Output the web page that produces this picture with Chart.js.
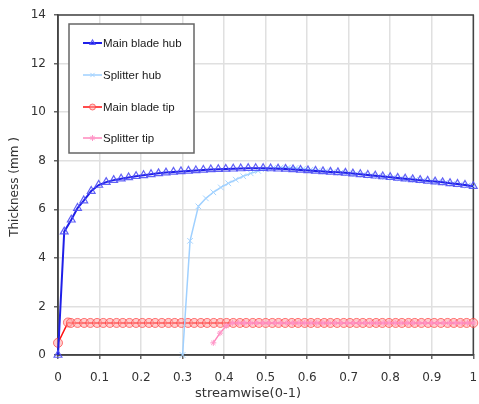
<!DOCTYPE html>
<html>
<head>
<meta charset="utf-8">
<script src="https://cdn.jsdelivr.net/npm/chart.js@4.4.0/dist/chart.umd.min.js"></script>
<style>
html, body { margin: 0; padding: 0; background: #fff; }
</style>
</head>
<body>
<canvas id="c" width="479" height="404"></canvas>
<script>
// streamwise positions (0-1) and thickness (mm)
let mainHubX = [0, 0.015, 0.032, 0.047, 0.062, 0.08, 0.098, 0.116, 0.134, 0.152, 0.17, 0.188, 0.206, 0.224, 0.242, 0.26, 0.278, 0.296, 0.314, 0.332, 0.35, 0.368, 0.386, 0.404, 0.422, 0.44, 0.458, 0.476, 0.494, 0.512, 0.53, 0.548, 0.566, 0.584, 0.602, 0.62, 0.638, 0.656, 0.674, 0.692, 0.71, 0.728, 0.746, 0.764, 0.782, 0.8, 0.818, 0.836, 0.854, 0.872, 0.89, 0.908, 0.926, 0.944, 0.962, 0.98, 1.0]
let mainHubY = [0, 5.08, 5.57, 6.05, 6.36, 6.75, 7.0, 7.12, 7.2, 7.26, 7.31, 7.36, 7.4, 7.44, 7.48, 7.51, 7.54, 7.56, 7.58, 7.6, 7.62, 7.64, 7.65, 7.66, 7.67, 7.68, 7.69, 7.69, 7.69, 7.68, 7.67, 7.66, 7.64, 7.62, 7.6, 7.58, 7.56, 7.54, 7.52, 7.5, 7.47, 7.44, 7.41, 7.38, 7.35, 7.32, 7.29, 7.26, 7.23, 7.2, 7.17, 7.14, 7.11, 7.07, 7.04, 7.0, 6.95]

let splitHubX = [0.3, 0.318, 0.338, 0.356, 0.374, 0.392, 0.41, 0.428, 0.446, 0.464, 0.482, 0.5, 0.518, 0.536, 0.554, 0.572, 0.59, 0.608, 0.626, 0.644, 0.662, 0.68, 0.698, 0.716, 0.734, 0.752, 0.77, 0.788, 0.806, 0.824, 0.842, 0.86, 0.878, 0.896, 0.914, 0.932, 0.95, 0.968, 0.986, 1.0]
let splitHubY = [0, 4.7, 6.12, 6.45, 6.7, 6.9, 7.07, 7.22, 7.36, 7.48, 7.58, 7.65, 7.7, 7.72, 7.72, 7.7, 7.67, 7.63, 7.6, 7.57, 7.54, 7.51, 7.48, 7.45, 7.42, 7.39, 7.36, 7.33, 7.3, 7.27, 7.24, 7.21, 7.18, 7.15, 7.12, 7.09, 7.05, 7.02, 6.98, 6.95]

let mainTipX = [0, 0.024, 0.031, 0.047, 0.063, 0.078, 0.094, 0.109, 0.125, 0.141, 0.156, 0.172, 0.188, 0.203, 0.219, 0.234, 0.25, 0.266, 0.281, 0.297, 0.313, 0.328, 0.344, 0.359, 0.375, 0.391, 0.406, 0.422, 0.438, 0.453, 0.469, 0.484, 0.5, 0.516, 0.531, 0.547, 0.563, 0.578, 0.594, 0.609, 0.625, 0.641, 0.656, 0.672, 0.688, 0.703, 0.719, 0.734, 0.75, 0.766, 0.781, 0.797, 0.813, 0.828, 0.844, 0.859, 0.875, 0.891, 0.906, 0.922, 0.938, 0.953, 0.969, 0.984, 1.0]
let mainTipY = [0.5, 1.34, 1.32, 1.32, 1.32, 1.32, 1.32, 1.32, 1.32, 1.32, 1.32, 1.32, 1.32, 1.32, 1.32, 1.32, 1.32, 1.32, 1.32, 1.32, 1.32, 1.32, 1.32, 1.32, 1.32, 1.32, 1.32, 1.32, 1.32, 1.32, 1.32, 1.32, 1.32, 1.32, 1.32, 1.32, 1.32, 1.32, 1.32, 1.32, 1.32, 1.32, 1.32, 1.32, 1.32, 1.32, 1.32, 1.32, 1.32, 1.32, 1.32, 1.32, 1.32, 1.32, 1.32, 1.32, 1.32, 1.32, 1.32, 1.32, 1.32, 1.32, 1.32, 1.32, 1.32]

let splitTipX = [0.374, 0.39, 0.405, 0.42, 0.435, 0.449, 0.464, 0.478, 0.493, 0.507, 0.522, 0.536, 0.551, 0.565, 0.58, 0.594, 0.609, 0.623, 0.638, 0.652, 0.667, 0.681, 0.696, 0.71, 0.725, 0.739, 0.754, 0.768, 0.783, 0.797, 0.812, 0.826, 0.841, 0.855, 0.87, 0.884, 0.899, 0.913, 0.928, 0.942, 0.957, 0.971, 0.986, 1.0]
let splitTipY = [0.5, 0.9, 1.2, 1.32, 1.32, 1.32, 1.32, 1.32, 1.32, 1.32, 1.32, 1.32, 1.32, 1.32, 1.32, 1.32, 1.32, 1.32, 1.32, 1.32, 1.32, 1.32, 1.32, 1.32, 1.32, 1.32, 1.32, 1.32, 1.32, 1.32, 1.32, 1.32, 1.32, 1.32, 1.32, 1.32, 1.32, 1.32, 1.32, 1.32, 1.32, 1.32, 1.32, 1.32]

let seriesNames = ['Main blade hub', 'Splitter hub', 'Main blade tip', 'Splitter tip']

function toPoints(xs, ys) {
    return xs.map((x, i) => ({ x: x, y: ys[i] }))
}

const tickFont = { family: 'DejaVu Sans', size: 12 }

// frame round the plot, axis titles and the boxed legend
const framePlugin = {
    id: 'frame',
    beforeDatasetsDraw(chart) {
        const { ctx, chartArea: a } = chart
        ctx.save()
        ctx.strokeStyle = '#444'
        ctx.lineWidth = 1.5
        ctx.strokeRect(a.left, a.top, a.right - a.left, a.bottom - a.top)
        ctx.restore()
    },
    afterDraw(chart) {
        const ctx = chart.ctx
        ctx.save()
        ctx.fillStyle = '#333'
        ctx.textAlign = 'center'
        ctx.textBaseline = 'middle'
        ctx.font = '13px "DejaVu Sans"'
        ctx.fillText('streamwise(0-1)', 248, 394)
        ctx.translate(15, 187)
        ctx.rotate(-Math.PI / 2)
        ctx.font = '12px "DejaVu Sans"'
        ctx.fillText('Thickness (mm )', 0, 0)
        ctx.restore()

        // legend
        ctx.save()
        ctx.fillStyle = '#fff'
        ctx.fillRect(69, 24, 125, 129)
        ctx.strokeStyle = '#666'
        ctx.lineWidth = 1.5
        ctx.strokeRect(69, 24, 125, 129)
        let rows = [43, 75, 107, 138]
        chart.data.datasets.forEach((ds, i) => {
            let y = rows[i]
            ctx.strokeStyle = ds.borderColor
            ctx.lineWidth = ds.borderWidth
            ctx.beginPath()
            ctx.moveTo(83, y)
            ctx.lineTo(102, y)
            ctx.stroke()
            if (Chart.helpers && Chart.helpers.drawPoint) {
                ctx.strokeStyle = ds.pointBorderColor
                ctx.fillStyle = ds.pointBackgroundColor
                ctx.lineWidth = ds.pointBorderWidth
                Chart.helpers.drawPoint(ctx, {
                    pointStyle: ds.pointStyle,
                    radius: 3,
                    rotation: 0,
                    borderWidth: ds.pointBorderWidth
                }, 92.5, y)
            }
            ctx.fillStyle = '#1a1a1a'
            ctx.font = '11.5px "Liberation Sans"'
            ctx.textAlign = 'left'
            ctx.textBaseline = 'middle'
            ctx.fillText(seriesNames[i], 103, y + 1)
        })
        ctx.restore()
    }
}

new Chart(document.getElementById('c'), {
    type: 'line',
    data: {
        datasets: [{
            label: seriesNames[0],
            data: toPoints(mainHubX, mainHubY),
            borderColor: '#1f1fe8',
            borderWidth: 2,
            pointStyle: 'triangle',
            pointRadius: 4.5,
            pointBorderColor: 'rgba(80, 80, 245, 0.9)',
            pointBackgroundColor: 'rgba(255, 255, 255, 0)',
            pointBorderWidth: 1.2,
            tension: 0,
            clip: 6,
            order: 2
        }, {
            label: seriesNames[1],
            data: toPoints(splitHubX, splitHubY),
            borderColor: '#9fd0ff',
            borderWidth: 1.5,
            pointStyle: 'crossRot',
            pointRadius: 4,
            pointBorderColor: '#a6d4ff',
            pointBackgroundColor: '#a6d4ff',
            pointBorderWidth: 1,
            tension: 0,
            clip: 6,
            order: 3
        }, {
            label: seriesNames[2],
            data: toPoints(mainTipX, mainTipY),
            borderColor: '#ff1010',
            borderWidth: 1.5,
            pointStyle: 'circle',
            pointRadius: 4.5,
            pointBorderColor: 'rgba(255, 60, 60, 0.7)',
            pointBackgroundColor: 'rgba(255, 160, 160, 0.5)',
            pointBorderWidth: 1,
            tension: 0,
            clip: 6,
            order: 4
        }, {
            label: seriesNames[3],
            data: toPoints(splitTipX, splitTipY),
            borderColor: '#ff88bd',
            borderWidth: 1.5,
            pointStyle: 'star',
            pointRadius: 3,
            pointBorderColor: '#ff96c8',
            pointBackgroundColor: '#ff96c8',
            pointBorderWidth: 1,
            tension: 0,
            clip: 6,
            order: 1
        }]
    },
    options: {
        responsive: false,
        animation: false,
        layout: { padding: { top: 15, right: 1, bottom: 0, left: 0 } },
        plugins: {
            legend: { display: false },
            tooltip: { enabled: false }
        },
        scales: {
            x: {
                type: 'linear',
                min: 0,
                max: 1,
                ticks: {
                    stepSize: 0.1,
                    font: tickFont,
                    color: '#333',
                    padding: 12,
                    maxRotation: 0,
                    callback: (v) => String(Math.round(v * 10) / 10)
                },
                grid: { color: '#e0e0e0', lineWidth: 1.5, tickLength: 4, tickColor: '#666' },
                border: { color: '#444', width: 1.5 },
                afterFit(s) {
                    s.height = 49
                    s.paddingLeft = 0
                    s.paddingRight = 0
                }
            },
            y: {
                min: 0,
                max: 14,
                ticks: { stepSize: 2, font: tickFont, color: '#333', padding: 8 },
                grid: { color: '#e0e0e0', lineWidth: 1.5, tickLength: 4, tickColor: '#666' },
                border: { color: '#444', width: 1.5 },
                afterFit(s) {
                    s.width = 58
                    s.paddingTop = 0
                    s.paddingBottom = 0
                }
            }
        }
    },
    plugins: [framePlugin]
})
</script>
</body>
</html>
